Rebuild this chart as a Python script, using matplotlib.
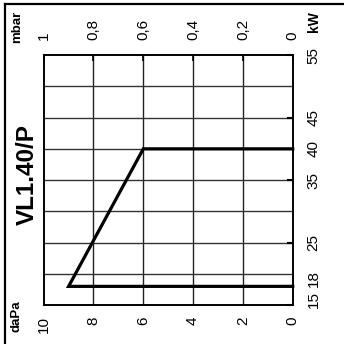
import matplotlib
matplotlib.use("Agg")
import matplotlib.pyplot as plt
from matplotlib.lines import Line2D
from matplotlib.transforms import ScaledTranslation

plt.rcParams['font.family'] = ['Liberation Sans', 'DejaVu Sans']

# pressure axis (daPa) and matching mbar labels on top
dapa_ticks = [10, 8, 6, 4, 2, 0]
mbar_labels = ["1", "0,8", "0,6", "0,4", "0,2", "0"]
# power axis (kW)
kw_ticks = [15, 18, 25, 35, 40, 45, 55]
kw_grid = [20, 25, 30, 35, 40, 45, 50]

# working range curve: pressure vs power
curve_dapa = [0, 9, 6, 0]
curve_kw = [18, 18, 40, 40]

model = "VL1.40/P"

fig = plt.figure(figsize=(3.44, 3.44), dpi=100)
ax = fig.add_axes([0.127, 0.113, 0.724, 0.727])

ax.set_xlim(10, 0)
ax.set_ylim(15, 55)

for x in dapa_ticks[1:-1]:
    ax.axvline(x, color='#222222', lw=1.0, zorder=1)
for y in kw_grid:
    ax.axhline(y, color='#333333', lw=1.0, zorder=1)

ax.plot(curve_dapa, curve_kw, color='black', lw=2.3, solid_joinstyle='miter',
        clip_on=False, zorder=3)

for s in ax.spines.values():
    s.set_linewidth(1.2)

ax.set_xticks(dapa_ticks)
ax.set_xticklabels([str(v) for v in dapa_ticks], rotation=90, fontsize=11,
                   va='top', ha='center')
ax.tick_params(axis='x', length=0, pad=8)

ax.yaxis.tick_right()
ax.set_yticks(kw_ticks)
ax.set_yticklabels([str(v) for v in kw_ticks], rotation=90, fontsize=11,
                   va='center', ha='left')
ax.tick_params(axis='y', direction='in', length=4, width=1.5, pad=10)

# nudge the two crowded labels at the bottom upwards
shift = {"15": 4.3, "18": 5.8}
for lab in ax.get_yticklabels():
    if lab.get_text() in shift:
        dy = shift[lab.get_text()] / 72
        lab.set_transform(lab.get_transform() + ScaledTranslation(0, dy, fig.dpi_scale_trans))

top = ax.twiny()
top.set_xlim(10, 0)
top.set_xticks(dapa_ticks)
top.set_xticklabels(mbar_labels, rotation=90, fontsize=11, va='bottom', ha='center')
top.tick_params(axis='x', direction='in', length=4, width=1.2, pad=11)
for s in top.spines.values():
    s.set_linewidth(1.2)

fig.text(27 / 344, 1 - 175 / 344, model, rotation=90, fontsize=17.5,
         fontweight='bold', ha='center', va='center')
fig.text(17 / 344, 1 - 27 / 344, "mbar", rotation=90, fontsize=9.5,
         fontweight='bold', ha='center', va='center')
fig.text(17 / 344, 1 - 316 / 344, "daPa", rotation=90, fontsize=9.5,
         fontweight='bold', ha='center', va='center')
fig.text(314 / 344, 1 - 22 / 344, "kW", rotation=90, fontsize=10,
         fontweight='bold', ha='center', va='center')

# border on the left and top edges
fig.add_artist(Line2D([5 / 344, 5 / 344], [0, 1 - 4 / 344], color='black', lw=1.6,
                      transform=fig.transFigure))
fig.add_artist(Line2D([5 / 344, 1], [1 - 4 / 344, 1 - 4 / 344], color='black', lw=1.6,
                      transform=fig.transFigure))

fig.savefig("out.png", dpi=100)
